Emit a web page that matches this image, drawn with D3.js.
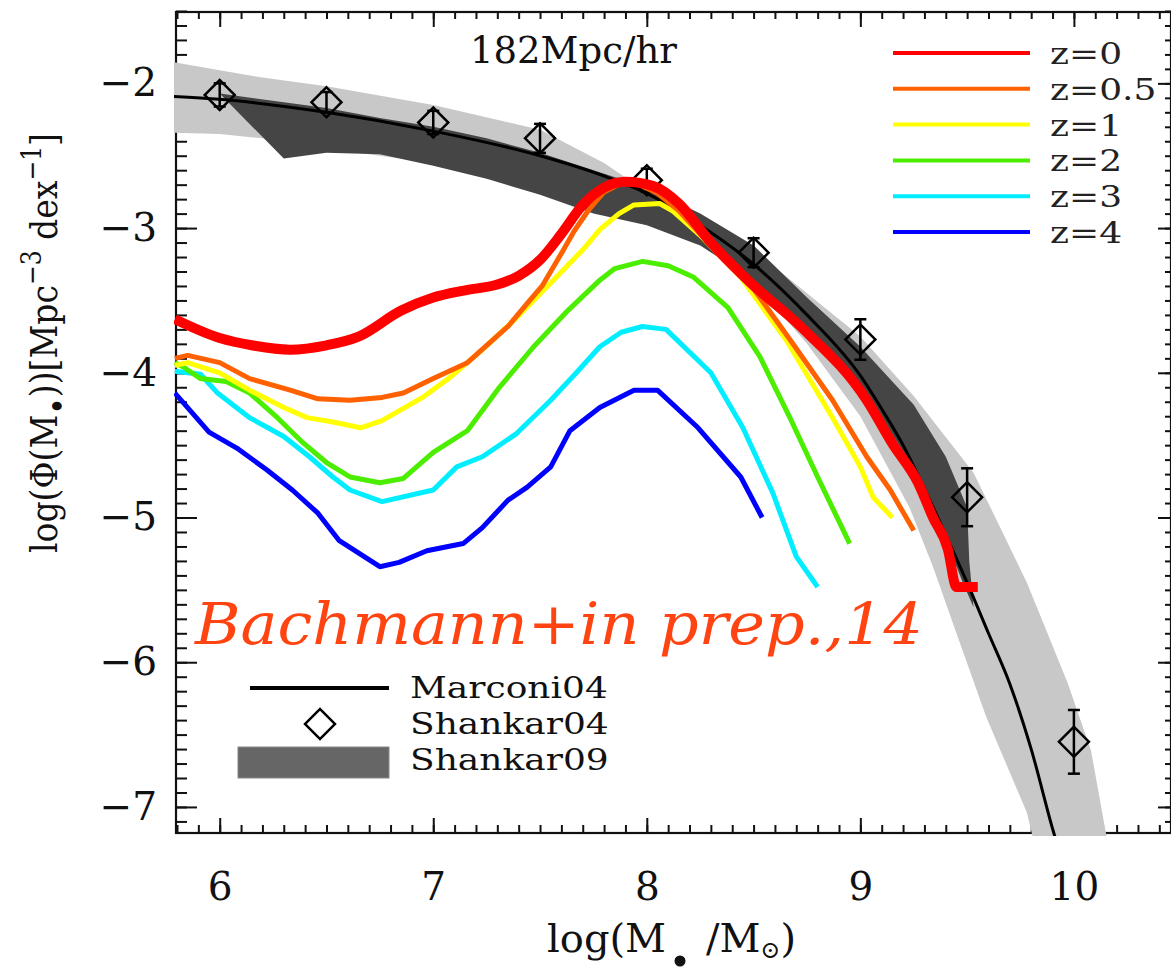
<!DOCTYPE html>
<html>
<head>
<meta charset="utf-8">
<script src="https://cdn.jsdelivr.net/npm/d3@7"></script>
<style>
  body { margin: 0; background: #fff; }
  svg { display: block; }
  text { font-family: "DejaVu Serif", serif; }
</style>
</head>
<body>
<svg id="chart" width="1171" height="969"></svg>
<script>
"use strict"

// tick labels
const xTicks = [6, 7, 8, 9, 10]
const yTicks = [-2, -3, -4, -5, -6, -7]

// Marconi04 (black line)
const marconi04 = [[5.78, -2.09], [6.0, -2.11], [6.5, -2.2], [7.0, -2.33], [7.5, -2.5], [7.8, -2.64],
  [8.0, -2.76], [8.25, -2.98], [8.5, -3.25], [8.75, -3.6], [9.0, -4.02], [9.1, -4.25], [9.2, -4.5],
  [9.3, -4.8], [9.4, -5.12], [9.5, -5.45], [9.6, -5.8], [9.7, -6.15], [9.8, -6.6], [9.9, -7.15], [9.95, -7.4]]

// Shankar04 (diamonds with error bars)
const shankarM = [6.0, 6.5, 7.0, 7.5, 8.0, 8.5, 9.0, 9.5, 10.0]
const shankarPhi = [-2.08, -2.13, -2.27, -2.38, -2.67, -3.17, -3.77, -4.86, -6.55]
const shankarErr = [0.08, 0.07, 0.08, 0.1, 0.08, 0.1, 0.14, 0.2, 0.22]

// Shankar09 (dark band)
const shankar09Upper = [[6.0, -2.07], [6.3, -2.13], [6.5, -2.17], [6.75, -2.24], [7.0, -2.3], [7.25, -2.38],
  [7.5, -2.48], [7.75, -2.6], [8.0, -2.72], [8.25, -2.9], [8.5, -3.12], [8.75, -3.48], [9.0, -3.82],
  [9.25, -4.22], [9.4, -4.58], [9.5, -4.93], [9.51, -5.3], [9.53, -5.62]]
const shankar09Lower = [[6.0, -2.07], [6.3, -2.52], [6.5, -2.48], [6.75, -2.49], [7.0, -2.57], [7.25, -2.66],
  [7.5, -2.77], [7.75, -2.9], [8.0, -2.98], [8.25, -3.12], [8.5, -3.36], [8.75, -3.7], [9.0, -4.08],
  [9.25, -4.66], [9.4, -5.15], [9.48, -5.45], [9.53, -5.62]]

// wider uncertainty range (light band)
const rangeUpper = [[5.77, -1.85], [6.0, -1.91], [6.2, -1.96], [6.5, -2.02], [7.0, -2.15], [7.5, -2.32],
  [7.8, -2.55], [8.0, -2.75], [8.25, -2.93], [8.5, -3.15], [8.75, -3.45], [9.0, -3.75], [9.25, -4.16],
  [9.53, -4.69], [9.78, -5.45], [9.97, -6.14], [10.08, -6.61], [10.15, -7.18], [10.17, -7.35]]
const rangeLower = [[5.77, -2.34], [6.0, -2.35], [6.2, -2.38], [6.5, -2.45], [7.0, -2.55], [7.5, -2.75],
  [7.8, -2.88], [8.0, -2.97], [8.25, -3.11], [8.5, -3.37], [8.75, -3.8], [9.0, -4.3], [9.23, -4.93],
  [9.34, -5.34], [9.45, -5.8], [9.59, -6.38], [9.78, -7.04], [9.83, -7.35]]

// simulation, by redshift
const redshifts = ["z=0", "z=0.5", "z=1", "z=2", "z=3", "z=4"]
const zColors = ["#ff0000", "#ff6000", "#ffff00", "#4cee00", "#00eeff", "#0000ff"]
const z0 = [[5.79, -3.63], [6.0, -3.76], [6.15, -3.81], [6.33, -3.84], [6.5, -3.81], [6.65, -3.75],
  [6.85, -3.57], [7.0, -3.48], [7.15, -3.43], [7.3, -3.39], [7.4, -3.33], [7.5, -3.22], [7.6, -3.04],
  [7.7, -2.84], [7.8, -2.72], [7.9, -2.68], [8.03, -2.71], [8.15, -2.83], [8.3, -3.1], [8.48, -3.37], [8.72, -3.68],
  [9.03, -4.19], [9.15, -4.49], [9.27, -4.76], [9.34, -5.0], [9.41, -5.22], [9.45, -5.48], [9.55, -5.48]]
const z05 = [[5.79, -3.9], [5.85, -3.88], [6.0, -3.93], [6.14, -4.04], [6.33, -4.12], [6.46, -4.18],
  [6.61, -4.19], [6.76, -4.17], [6.86, -4.14], [7.0, -4.04], [7.16, -3.93], [7.35, -3.68], [7.44, -3.52],
  [7.51, -3.4], [7.61, -3.15], [7.66, -3.02], [7.73, -2.87], [7.8, -2.75], [7.88, -2.69], [7.95, -2.69],
  [8.05, -2.76], [8.15, -2.88], [8.3, -3.12], [8.5, -3.42], [8.67, -3.77], [8.87, -4.19], [9.03, -4.58],
  [9.14, -4.81], [9.25, -5.09]]
const z1 = [[5.79, -3.95], [5.85, -3.93], [6.0, -4.0], [6.14, -4.12], [6.3, -4.24], [6.41, -4.31],
  [6.53, -4.34], [6.66, -4.38], [6.76, -4.33], [6.95, -4.17], [7.08, -4.03], [7.23, -3.84], [7.39, -3.62],
  [7.55, -3.38], [7.7, -3.15], [7.78, -3.01], [7.87, -2.9], [7.94, -2.84], [8.06, -2.83], [8.12, -2.88],
  [8.25, -3.05], [8.44, -3.34], [8.66, -3.79], [8.87, -4.31], [9.0, -4.65], [9.06, -4.86], [9.15, -5.0]]
const z2 = [[5.79, -3.93], [5.83, -3.96], [5.91, -4.04], [6.03, -4.06], [6.14, -4.14], [6.27, -4.31],
  [6.38, -4.47], [6.5, -4.62], [6.61, -4.72], [6.75, -4.76], [6.86, -4.73], [7.0, -4.55], [7.16, -4.4],
  [7.31, -4.1], [7.47, -3.82], [7.63, -3.57], [7.78, -3.36], [7.85, -3.28], [7.98, -3.23], [8.1, -3.26],
  [8.22, -3.34], [8.38, -3.55], [8.53, -3.89], [8.67, -4.31], [8.8, -4.72], [8.95, -5.18]]
const z3 = [[5.79, -3.99], [5.91, -4.01], [5.99, -4.14], [6.14, -4.31], [6.3, -4.44], [6.42, -4.58],
  [6.53, -4.72], [6.61, -4.81], [6.76, -4.89], [7.0, -4.81], [7.11, -4.65], [7.23, -4.58], [7.39, -4.42],
  [7.55, -4.19], [7.67, -4.0], [7.78, -3.82], [7.88, -3.72], [7.98, -3.68], [8.09, -3.7], [8.3, -4.0],
  [8.45, -4.38], [8.59, -4.83], [8.7, -5.27], [8.8, -5.48]]
const z4 = [[5.79, -4.14], [5.95, -4.41], [6.08, -4.52], [6.22, -4.67], [6.34, -4.81], [6.46, -4.97],
  [6.56, -5.16], [6.75, -5.34], [6.84, -5.31], [6.97, -5.23], [7.14, -5.18], [7.23, -5.07], [7.35, -4.88],
  [7.44, -4.79], [7.55, -4.65], [7.64, -4.4], [7.78, -4.24], [7.94, -4.12], [8.05, -4.12], [8.24, -4.38],
  [8.44, -4.72], [8.54, -5.0]]
const zSeries = [z0, z05, z1, z2, z3, z4]
const zWidths = [10, 5, 5, 5, 5, 5]

const svg = d3.select("#chart")

const x = d3.scaleLinear().domain([5.8, 10.45]).range([177, 1170])
const y = d3.scaleLinear().domain([-7.18, -1.5]).range([833, 11])

const line = d3.line().x(d => x(d[0])).y(d => y(d[1]))

// frame
svg.append("rect")
  .attr("x", 176).attr("y", 12).attr("width", 995).attr("height", 821)
  .attr("fill", "none").attr("stroke", "#111").attr("stroke-width", 2.2)

// axes (ticks point inward)
function axis(gen, tx, ty, values, size, labels) {
  const g = svg.append("g")
    .attr("transform", `translate(${tx},${ty})`)
    .call(gen.tickValues(values).tickSize(size).tickSizeOuter(0)
      .tickFormat(labels ? d3.format("d") : ""))
  g.select(".domain").remove()
  if (!labels) g.selectAll("text").remove()
  g.selectAll("line").attr("stroke", "#111").attr("stroke-width", 2)
  g.attr("font-family", "DejaVu Serif").attr("font-size", 39)
  g.selectAll("text").attr("fill", "#111")
  return g
}
const minorX = d3.range(58, 105).map(d => d / 10)
const minorY = d3.range(-71, -14).map(d => d / 10)

axis(d3.axisBottom(x).tickPadding(39), 0, 833, minorX, -8, false)
axis(d3.axisBottom(x).tickPadding(39), 0, 833, xTicks, -15, true)
axis(d3.axisTop(x), 0, 12, minorX, -7, false)
axis(d3.axisTop(x), 0, 12, xTicks, -15, false)
axis(d3.axisLeft(y).tickPadding(19), 176, 0, minorY, -11, false)
axis(d3.axisLeft(y).tickPadding(19), 176, 0, yTicks, -21, true)
axis(d3.axisRight(y), 1171, 0, minorY, -6, false)
axis(d3.axisRight(y), 1171, 0, yTicks, -13, false)

// bands painted over the frame
svg.append("clipPath").attr("id", "clip")
  .append("rect").attr("x", 174).attr("y", 10).attr("width", 1000).attr("height", 826)
const plot = svg.append("g").attr("clip-path", "url(#clip)")

plot.append("path")
  .attr("d", line(rangeUpper.concat(rangeLower.slice().reverse())) + "Z")
  .attr("fill", "#c8c8c8")

plot.append("path")
  .attr("d", line(shankar09Upper.concat(shankar09Lower.slice().reverse())) + "Z")
  .attr("fill", "#454545")

plot.append("path")
  .attr("d", line.curve(d3.curveMonotoneX)(marconi04))
  .attr("fill", "none").attr("stroke", "#000").attr("stroke-width", 3)
line.curve(d3.curveLinear)

// Shankar04 points
const diamond = d3.symbol().type(d3.symbolSquare).size(450)
const pts = plot.append("g").selectAll("g")
  .data(shankarM.map((m, i) => ({ m, phi: shankarPhi[i], err: shankarErr[i] })))
  .join("g")
  .attr("transform", d => `translate(${x(d.m)},${y(d.phi)})`)
  .attr("stroke", "#000").attr("stroke-width", 2.5).attr("fill", "none")
pts.append("path").attr("d", diamond()).attr("transform", "rotate(45)")
pts.append("line")
  .attr("y1", d => y(d.phi + d.err) - y(d.phi)).attr("y2", d => y(d.phi - d.err) - y(d.phi))
pts.append("line").attr("x1", -6).attr("x2", 6)
  .attr("y1", d => y(d.phi + d.err) - y(d.phi)).attr("y2", d => y(d.phi + d.err) - y(d.phi))
pts.append("line").attr("x1", -6).attr("x2", 6)
  .attr("y1", d => y(d.phi - d.err) - y(d.phi)).attr("y2", d => y(d.phi - d.err) - y(d.phi))

// redshift curves, z=4 underneath, z=0 on top
for (let i = zSeries.length - 1; i >= 0; i--) {
  plot.append("path")
    .attr("d", line.curve(i === 0 ? d3.curveMonotoneX : d3.curveLinear)(zSeries[i]))
    .attr("fill", "none")
    .attr("stroke", zColors[i])
    .attr("stroke-width", zWidths[i])
    .attr("stroke-linejoin", "round")
}

// redshift legend (wide glyphs, like the original plotting font)
redshifts.forEach((label, i) => {
  const ly = 53 + i * 35.8
  svg.append("line").attr("x1", 893).attr("x2", 1030).attr("y1", ly).attr("y2", ly)
    .attr("stroke", zColors[i]).attr("stroke-width", 4)
  const t = svg.append("text").attr("x", 1050).attr("y", ly + 11).attr("font-size", 30).attr("fill", "#222")
    .text(label)
  t.attr("textLength", t.node().getComputedTextLength() * 1.2).attr("lengthAdjust", "spacingAndGlyphs")
})

// data legend
svg.append("line").attr("x1", 250).attr("x2", 389).attr("y1", 688).attr("y2", 688)
  .attr("stroke", "#000").attr("stroke-width", 4)
svg.append("path").attr("d", diamond()).attr("transform", "translate(320,724) rotate(45)")
  .attr("fill", "none").attr("stroke", "#000").attr("stroke-width", 2.5)
svg.append("rect").attr("x", 238).attr("y", 747).attr("width", 151).attr("height", 31)
  .attr("fill", "#666").attr("stroke", "#888").attr("stroke-width", 1)
const legNames = ["Marconi04", "Shankar04", "Shankar09"]
legNames.forEach((n, i) => {
  const t = svg.append("text").attr("x", 410).attr("y", 698 + i * 36).attr("font-size", 30.5)
    .attr("fill", "#111").text(n)
  t.attr("textLength", t.node().getComputedTextLength() * 1.18).attr("lengthAdjust", "spacingAndGlyphs")
})

// box title
svg.append("text").attr("x", 470).attr("y", 63).attr("font-size", 37).attr("fill", "#111").text("182Mpc/hr")

// annotation
svg.append("text").attr("x", 195).attr("y", 644)
  .attr("font-size", 58).attr("font-style", "italic").attr("fill", "#ff4412")
  .attr("textLength", 728).attr("lengthAdjust", "spacingAndGlyphs")
  .text("Bachmann+in prep.,14")

// x axis title; the bullet under M is drawn as a dot so it stays inside the page
const xl = svg.append("text").attr("x", 547).attr("y", 952)
  .attr("font-size", 40).attr("fill", "#111")
xl.append("tspan").text("log(M")
xl.append("tspan").attr("dx", 40).text("/M")
xl.append("tspan").attr("dy", 6).attr("font-size", 24).text("⊙")
xl.append("tspan").attr("dy", -6).text(")")
svg.append("circle").attr("cx", 680).attr("cy", 961).attr("r", 5.5).attr("fill", "#111")

// y axis title
const yl = svg.append("text").attr("transform", "translate(57,343) rotate(-90)")
  .attr("text-anchor", "middle").attr("font-size", 38).attr("fill", "#111")
  .attr("textLength", 420).attr("lengthAdjust", "spacingAndGlyphs")
yl.append("tspan").text("log(Φ(M")
yl.append("tspan").attr("dy", 13).attr("font-size", 34).text("•")
yl.append("tspan").attr("dy", -13).text("))[Mpc")
yl.append("tspan").attr("dy", -16).attr("font-size", 27).text("−3")
yl.append("tspan").attr("dy", 16).text(" dex")
yl.append("tspan").attr("dy", -16).attr("font-size", 27).text("−1")
yl.append("tspan").attr("dy", 16).text("]")
</script>
</body>
</html>
